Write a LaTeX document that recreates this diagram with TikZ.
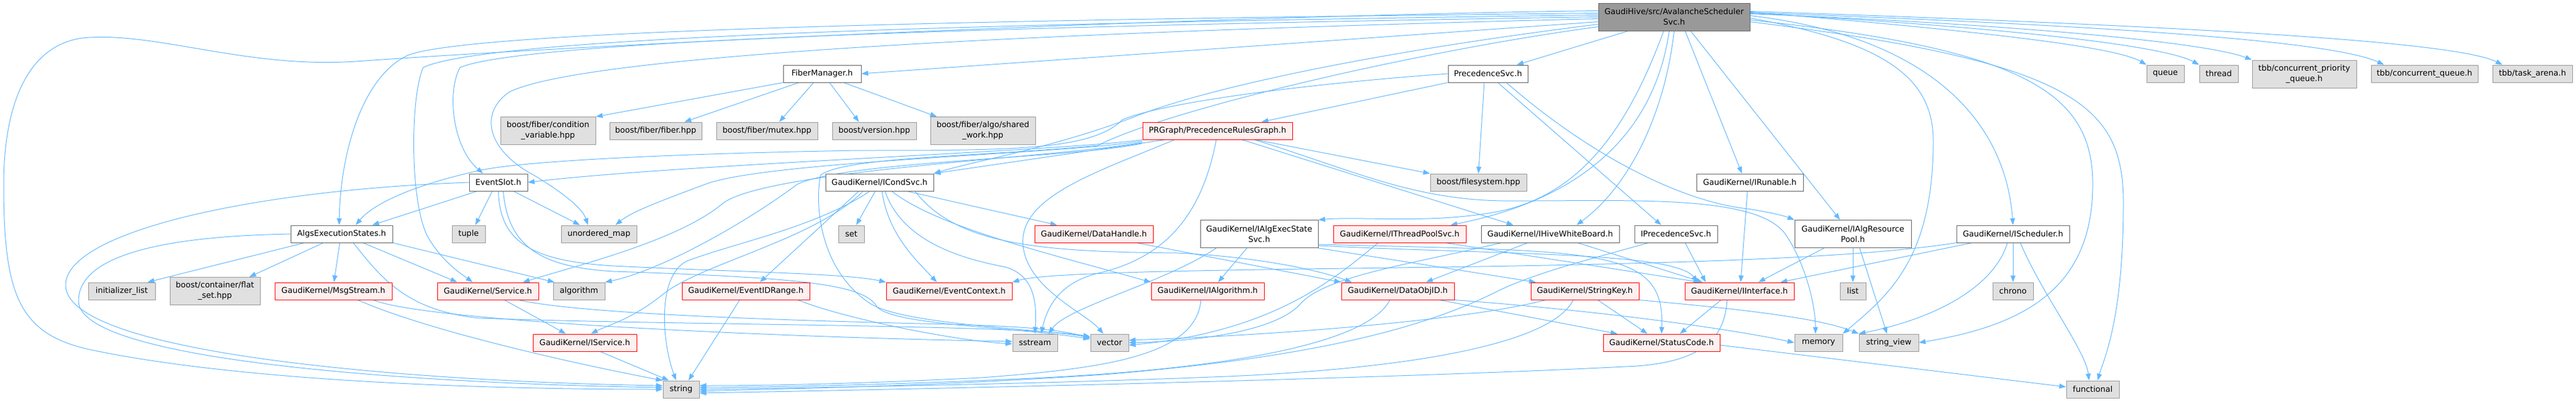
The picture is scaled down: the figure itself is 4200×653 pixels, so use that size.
\documentclass[tikz,border=0pt]{standalone}
\usepackage{fontspec}
\setmainfont{DejaVu Sans}
\usetikzlibrary{arrows.meta}
\definecolor{edgeblue}{HTML}{63B8FF}
\definecolor{docline}{HTML}{666666}
\definecolor{extline}{HTML}{999999}
\definecolor{extfill}{HTML}{E0E0E0}
\definecolor{truncfill}{HTML}{FFF0F0}
\definecolor{rootfill}{HTML}{999999}
\pgfdeclarelayer{bg}
\pgfsetlayers{bg,main}
\begin{document}
\begin{tikzpicture}[x=1pt,y=-1pt,
  box/.style={rectangle,draw,line width=1pt,inner xsep=2pt,inner ysep=0pt,minimum height=28pt,font=\fontsize{13}{17}\selectfont},
  doc/.style={box,draw=docline,fill=white},
  ext/.style={box,draw=extline,fill=extfill},
  trunc/.style={box,draw=red,fill=truncfill},
  rootbox/.style={box,draw=docline,fill=rootfill},
  two/.style={minimum height=45pt,align=center},
  dep/.style={draw=edgeblue,line width=1pt,-{Triangle[length=11pt,width=8pt]}}]
\useasboundingbox (0,0) rectangle (4200,653);

\node[rootbox,two,minimum width=247pt] (root) at (2729.5,27.5) {GaudiHive/src/AvalancheScheduler\\Svc.h};

\node[doc,minimum width=127pt] (fibmgr) at (1340.5,120) {FiberManager.h};
\node[doc,minimum width=130pt] (precsvc) at (2426,120) {PrecedenceSvc.h};
\node[ext,minimum width=61pt] (queue) at (3530.5,120) {queue};
\node[ext,minimum width=63pt] (thread) at (3617.5,120) {thread};
\node[ext,two,minimum width=170pt] (tbbpq) at (3757,120.5) {tbb/concurrent\_priority\\\_queue.h};
\node[ext,minimum width=174pt] (tbbcq) at (3953,120) {tbb/concurrent\_queue.h};
\node[ext,minimum width=130pt] (tbbta) at (4129,120) {tbb/task\_arena.h};

\node[ext,two,minimum width=155pt] (condvar) at (893.5,213) {boost/fiber/condition\\\_variable.hpp};
\node[ext,minimum width=150pt] (fiberhpp) at (1069,213) {boost/fiber/fiber.hpp};
\node[ext,minimum width=165pt] (mutex) at (1250.5,213) {boost/fiber/mutex.hpp};
\node[ext,minimum width=137pt] (version) at (1425.5,213) {boost/version.hpp};
\node[ext,two,minimum width=171pt] (sharedwork) at (1602.5,213) {boost/fiber/algo/shared\\\_work.hpp};
\node[trunc,minimum width=244pt] (prgraph) at (1985,213) {PRGraph/PrecedenceRulesGraph.h};

\node[doc,minimum width=95pt] (evslot) at (812.5,297) {EventSlot.h};
\node[doc,minimum width=176pt] (condsvc) at (1434,297) {GaudiKernel/ICondSvc.h};
\node[ext,minimum width=157pt] (filesys) at (2410.5,297) {boost/filesystem.hpp};
\node[doc,minimum width=174pt] (runable) at (2853,297) {GaudiKernel/IRunable.h};

\node[doc,minimum width=166pt] (algstates) at (557,381) {AlgsExecutionStates.h};
\node[ext,minimum width=54pt] (tuple) at (764,381) {tuple};
\node[ext,minimum width=123pt] (umap) at (976.5,381) {unordered\_map};
\node[ext,minimum width=42pt] (set) at (1388,381) {set};
\node[trunc,minimum width=193pt] (datahandle) at (1783.5,381) {GaudiKernel/DataHandle.h};
\node[doc,two,minimum width=192pt] (execsvc) at (2053,381) {GaudiKernel/IAlgExecState\\Svc.h};
\node[trunc,minimum width=216pt] (poolsvc) at (2282,381) {GaudiKernel/IThreadPoolSvc.h};
\node[doc,minimum width=225pt] (whiteboard) at (2527.5,381) {GaudiKernel/IHiveWhiteBoard.h};
\node[doc,minimum width=135pt] (iprecsvc) at (2732.5,381) {IPrecedenceSvc.h};
\node[doc,two,minimum width=190pt] (respool) at (3021,381) {GaudiKernel/IAlgResource\\Pool.h};
\node[doc,minimum width=184pt] (scheduler) at (3282,381) {GaudiKernel/IScheduler.h};

\node[ext,minimum width=109pt] (initlist) at (198.5,474) {initializer\_list};
\node[ext,two,minimum width=147pt] (flatset) at (350.5,474) {boost/container/flat\\\_set.hpp};
\node[trunc,minimum width=191pt] (msgstream) at (543.5,474) {GaudiKernel/MsgStream.h};
\node[trunc,minimum width=165pt] (service) at (795.5,474) {GaudiKernel/Service.h};
\node[ext,minimum width=84pt] (algorithm) at (944,474) {algorithm};
\node[trunc,minimum width=208pt] (idrange) at (1216,474) {GaudiKernel/EventIDRange.h};
\node[trunc,minimum width=205pt] (evctx) at (1547.5,474) {GaudiKernel/EventContext.h};
\node[trunc,minimum width=184pt] (ialg) at (1969,474) {GaudiKernel/IAlgorithm.h};
\node[trunc,minimum width=184pt] (dataobjid) at (2279,474) {GaudiKernel/DataObjID.h};
\node[trunc,minimum width=176pt] (stringkey) at (2584,474) {GaudiKernel/StringKey.h};
\node[trunc,minimum width=178pt] (iface) at (2836,474) {GaudiKernel/IInterface.h};
\node[ext,minimum width=42pt] (list) at (3021,474) {list};
\node[ext,minimum width=66pt] (chrono) at (3282,474) {chrono};

\node[trunc,minimum width=169pt] (iservice) at (953.5,558) {GaudiKernel/IService.h};
\node[ext,minimum width=73pt] (sstream) at (1687.5,558) {sstream};
\node[ext,minimum width=62pt] (vector) at (1809,558) {vector};
\node[trunc,minimum width=190pt] (statuscode) at (2709,558) {GaudiKernel/StatusCode.h};
\node[ext,minimum width=78pt] (memory) at (2965,558) {memory};
\node[ext,minimum width=97pt] (strview) at (3079.5,558) {string\_view};

\node[ext,minimum width=59pt] (string) at (1110.5,634) {string};
\node[ext,minimum width=86pt] (functional) at (3412,634) {functional};

\begin{pgfonlayer}{bg}
\draw[dep] ([yshift=10pt]root.west) .. controls (2000,25) and (1000,70) .. (580,100) .. controls (400,112) and (250,50) .. (134,62) .. controls (40,75) and (6,180) .. (6,300) .. controls (6,480) and (30,545) .. (150,570) .. controls (400,622) and (800,634) .. (string.west);
\draw[dep] ([yshift=6pt]root.west) .. controls (1800,30) and (780,45) .. (665,90) .. controls (590,125) and (555,250) .. ([xshift=-4pt]algstates.north);
\draw[dep] ([yshift=3pt]root.west) .. controls (1800,35) and (800,55) .. (690,110) .. controls (668,160) and (668,340) .. (700,390) .. controls (725,430) and (755,448) .. ([xshift=-25pt]service.north);
\draw[dep] (root.west) .. controls (1800,40) and (860,62) .. (750,110) .. controls (728,150) and (738,240) .. ([xshift=-25pt]evslot.north);
\draw[dep] ([yshift=-3pt]root.west) .. controls (1800,50) and (960,85) .. (830,150) .. controls (780,185) and (795,245) .. (870,285) .. controls (920,315) and (950,340) .. ([xshift=-18pt]umap.north);
\draw[dep] ([yshift=-8pt]root.west) -- (fibmgr.east);
\draw[dep] ([yshift=-12pt]root.west) .. controls (2200,90) and (1950,150) .. (1850,190) .. controls (1720,240) and (1590,262) .. (condsvc.north east);
\draw[dep] ([yshift=-16pt]root.west) .. controls (2300,85) and (1900,180) .. (1790,237) .. controls (1600,255) and (1380,255) .. (1338,285) .. controls (1328,330) and (1335,440) .. (1420,495) .. controls (1480,530) and (1700,535) .. ([yshift=8pt]vector.west);
\draw[dep] ([xshift=-75pt]root.south) -- ([xshift=47pt]precsvc.north);
\draw[dep] ([xshift=-17pt]root.south) .. controls (2650,220) and (2570,320) .. (2440,345) .. controls (2330,365) and (2220,352) .. (execsvc.north east);
\draw[dep] ([xshift=-8pt]root.south) .. controls (2700,200) and (2600,320) .. ([xshift=83pt]poolsvc.north);
\draw[dep] (root.south) .. controls (2715,180) and (2660,300) .. ([xshift=43pt]whiteboard.north);
\draw[dep] ([xshift=18pt]root.south) -- ([xshift=-13pt]runable.north);
\draw[dep] ([xshift=27pt]root.south) -- ([xshift=-21pt]respool.north);
\draw[dep] ([yshift=8pt]root.east) .. controls (3100,40) and (3440,70) .. (queue.north west);
\draw[dep] ([yshift=6pt]root.east) .. controls (3200,40) and (3520,70) .. (thread.north west);
\draw[dep] ([yshift=5pt]root.east) .. controls (3300,40) and (3600,70) .. (tbbpq.north west);
\draw[dep] ([yshift=7pt]root.east) .. controls (3400,40) and (3800,65) .. ([xshift=-66pt]tbbcq.north);
\draw[dep] ([yshift=9pt]root.east) .. controls (3500,40) and (4000,65) .. ([xshift=-49pt]tbbta.north);
\draw[dep] ([yshift=2pt]root.east) .. controls (3150,60) and (3270,200) .. (scheduler.north);
\draw[dep] ([yshift=-2pt]root.east) .. controls (3080,70) and (3152,130) .. (3152,230) .. controls (3152,420) and (3080,480) .. (memory.north east);
\draw[dep] ([yshift=-5pt]root.east) .. controls (3300,80) and (3412,150) .. (3412,300) .. controls (3412,470) and (3300,530) .. (strview.east);
\draw[dep] ([yshift=-8pt]root.east) .. controls (3380,100) and (3462,170) .. (3462,330) .. controls (3462,520) and (3430,585) .. ([xshift=8pt]functional.north);

\draw[dep] (fibmgr.south west) -- (condvar.north east);
\draw[dep] ([xshift=-38pt]fibmgr.south) -- ([xshift=47pt]fiberhpp.north);
\draw[dep] ([xshift=-14pt]fibmgr.south) -- ([xshift=20pt]mutex.north);
\draw[dep] ([xshift=12pt]fibmgr.south) -- ([xshift=-25pt]version.north);
\draw[dep] ([xshift=35pt]fibmgr.south) -- ([xshift=-75pt]sharedwork.north);

\draw[dep] (precsvc.south west) -- ([xshift=72pt]prgraph.north);
\draw[dep] (precsvc.west) .. controls (2150,135) and (1900,165) .. (1830,195) .. controls (1780,245) and (1650,245) .. (1400,245) .. controls (1100,250) and (850,262) .. (780,278) .. controls (680,300) and (610,330) .. ([xshift=23pt]algstates.north);
\draw[dep] ([xshift=-6pt]precsvc.south) -- (filesys.north);
\draw[dep] ([xshift=16pt]precsvc.south) -- ([xshift=-24pt]iprecsvc.north);
\draw[dep] ([xshift=30pt]precsvc.south) .. controls (2600,260) and (2750,330) .. (2850,340) .. controls (2880,345) and (2905,350) .. (respool.north west);

\draw[dep] ([xshift=-85pt]prgraph.south) -- (condsvc.north east);
\draw[dep] (prgraph.south west) .. controls (1750,245) and (1100,268) .. (evslot.east);
\draw[dep] ([yshift=-2pt]prgraph.south west) .. controls (1750,250) and (1250,262) .. (1150,300) .. controls (1070,330) and (1030,345) .. ([xshift=27pt]umap.north);
\draw[dep] ([yshift=-4pt]prgraph.south west) .. controls (1750,255) and (1260,275) .. (1180,330) .. controls (1110,390) and (950,430) .. ([xshift=57pt]service.north);
\draw[dep] ([yshift=-6pt]prgraph.south west) .. controls (1750,258) and (1380,262) .. (1300,300) .. controls (1220,360) and (1080,440) .. (algorithm.north east);
\draw[dep] ([xshift=-2pt]prgraph.south) .. controls (1960,350) and (1900,420) .. (1790,445) .. controls (1720,462) and (1705,510) .. ([xshift=10pt]sstream.north);
\draw[dep] ([xshift=-70pt]prgraph.south) .. controls (1790,280) and (1660,320) .. (1668,400) .. controls (1675,470) and (1770,510) .. ([xshift=-10pt]vector.north);
\draw[dep] ([xshift=40pt]prgraph.south) -- ([xshift=-60pt]whiteboard.north);
\draw[dep] ([xshift=62pt]prgraph.south) -- (filesys.north west);
\draw[dep] ([xshift=60pt]prgraph.south) .. controls (2200,275) and (2300,325) .. (2450,327) .. controls (2650,328) and (2860,315) .. (2910,380) .. controls (2945,430) and (2960,500) .. ([xshift=-5pt]memory.north);

\draw[dep] ([xshift=-35pt]evslot.south) -- ([xshift=50pt]algstates.north);
\draw[dep] ([xshift=-10pt]evslot.south) -- ([xshift=11pt]tuple.north);
\draw[dep] ([xshift=25pt]evslot.south) -- ([xshift=-31pt]umap.north);
\draw[dep] (evslot.west) .. controls (400,310) and (105,380) .. (107,465) .. controls (110,580) and (700,622) .. ([yshift=6pt]string.west);
\draw[dep] (evslot.south) .. controls (815,390) and (860,425) .. (1000,433) .. controls (1200,443) and (1380,445) .. (evctx.north west);
\draw[dep] ([xshift=8pt]evslot.south) .. controls (828,400) and (880,435) .. (1000,442) .. controls (1300,452) and (1410,462) .. (1430,500) .. controls (1460,530) and (1650,532) .. ([yshift=6pt]vector.west);

\draw[dep] (algstates.west) .. controls (250,385) and (128,420) .. (128,490) .. controls (128,590) and (700,625) .. ([yshift=3pt]string.west);
\draw[dep] ([xshift=-61pt]algstates.south) -- ([xshift=42pt]initlist.north);
\draw[dep] ([xshift=-30pt]algstates.south) -- ([xshift=56pt]flatset.north);
\draw[dep] ([xshift=-3pt]algstates.south) -- ([xshift=1pt]msgstream.north);
\draw[dep] ([xshift=19pt]algstates.south) .. controls (620,450) and (660,505) .. (780,518) .. controls (1100,530) and (1650,528) .. ([yshift=10pt]vector.west);
\draw[dep] ([xshift=35pt]algstates.south) -- ([xshift=-50pt]service.north);
\draw[dep] (algstates.south east) -- ([xshift=-40pt]algorithm.north);

\draw[dep] ([xshift=40pt]msgstream.south) .. controls (700,540) and (950,595) .. (string.north west);
\draw[dep] ([xshift=65pt]msgstream.south) .. controls (700,525) and (1300,550) .. ([yshift=2pt]sstream.west);
\draw[dep] ([xshift=27pt]service.south) -- ([xshift=-31pt]iservice.north);
\draw[dep] ([xshift=50pt]service.south) .. controls (950,512) and (1300,522) .. (1500,527) .. controls (1650,530) and (1720,535) .. ([yshift=8pt]vector.west);
\draw[dep] ([xshift=25pt]iservice.south) -- ([xshift=-20pt]string.north);
\draw[dep] ([xshift=-10pt]idrange.south) -- ([xshift=12pt]string.north);
\draw[dep] ([xshift=85pt]idrange.south) .. controls (1380,520) and (1560,555) .. ([yshift=-2pt]sstream.west);

\draw[dep] ([xshift=-7pt]condsvc.south) -- ([xshift=8pt]set.north);
\draw[dep] ([xshift=-34pt]condsvc.south) -- ([xshift=23pt]idrange.north);
\draw[dep] ([xshift=-27pt]condsvc.south) .. controls (1330,390) and (1140,430) .. (1080,480) .. controls (1030,520) and (990,530) .. ([xshift=10pt]iservice.north);
\draw[dep] ([xshift=-16pt]condsvc.south) .. controls (1330,370) and (1200,395) .. (1120,425) .. controls (1070,450) and (1080,560) .. ([xshift=-8pt]string.north);
\draw[dep] ([xshift=4pt]condsvc.south) .. controls (1448,380) and (1490,420) .. ([xshift=-20pt]evctx.north);
\draw[dep] ([xshift=9pt]condsvc.south) .. controls (1470,390) and (1560,420) .. (1640,435) .. controls (1690,450) and (1690,500) .. (sstream.north);
\draw[dep] ([xshift=20pt]condsvc.south) .. controls (1530,370) and (1700,410) .. (ialg.north west);
\draw[dep] ([xshift=45pt]condsvc.south) -- ([xshift=-60pt]datahandle.north);
\draw[dep] ([xshift=58pt]condsvc.south) .. controls (1560,400) and (1700,410) .. (1920,412) .. controls (2050,418) and (2150,440) .. ([xshift=-75pt]dataobjid.north);
\draw[dep] ([xshift=70pt]datahandle.south) -- (dataobjid.north west);

\draw[dep] ([xshift=-20pt]execsvc.south) -- ([xshift=17pt]ialg.north);
\draw[dep] ([xshift=-70pt]execsvc.south) .. controls (1900,460) and (1740,500) .. ([xshift=22pt]sstream.north);
\draw[dep] (execsvc.south east) -- ([xshift=-80pt]stringkey.north);
\draw[dep] ([yshift=4pt]execsvc.south east) .. controls (2450,415) and (2730,410) .. ([xshift=-68pt]iface.north);
\draw[dep] ([yshift=6pt]execsvc.south east) .. controls (2600,410) and (2715,400) .. (statuscode.north);
\draw[dep] ([xshift=75pt]poolsvc.south) -- ([xshift=-64pt]iface.north);
\draw[dep] ([xshift=-35pt]poolsvc.south) .. controls (2180,450) and (2080,540) .. ([yshift=-4pt]vector.east);
\draw[dep] ([xshift=-37pt]whiteboard.south) -- ([xshift=46pt]dataobjid.north);
\draw[dep] ([xshift=45pt]whiteboard.south) -- ([xshift=-60pt]iface.north);
\draw[dep] ([xshift=-80pt]whiteboard.south) .. controls (2300,430) and (2160,450) .. (2120,495) .. controls (2080,540) and (1950,556) .. (vector.east);
\draw[dep] ([xshift=15pt]iprecsvc.south) -- ([xshift=-55pt]iface.north);
\draw[dep] ([xshift=-45pt]iprecsvc.south) .. controls (2600,420) and (2500,445) .. (2440,475) .. controls (2300,545) and (2100,585) .. (1800,610) .. controls (1500,630) and (1300,632) .. ([yshift=-3pt]string.east);
\draw[dep] ([xshift=-4pt]runable.south) -- ([xshift=2pt]iface.north);
\draw[dep] ([xshift=-47pt]respool.south) -- ([xshift=31pt]iface.north);
\draw[dep] (respool.south) -- (list.north);
\draw[dep] ([xshift=11pt]respool.south) -- ([xshift=-3pt]strview.north);
\draw[dep] (scheduler.south west) .. controls (3000,425) and (2600,432) .. (2200,437) .. controls (1900,441) and (1700,445) .. (evctx.north east);
\draw[dep] ([xshift=-67pt]scheduler.south) -- ([xshift=67pt]iface.north);
\draw[dep] ([xshift=-9pt]scheduler.south) .. controls (3250,470) and (3150,520) .. (strview.north west);
\draw[dep] (scheduler.south) -- (chrono.north);
\draw[dep] ([xshift=12pt]scheduler.south) .. controls (3330,480) and (3400,570) .. ([xshift=-6pt]functional.north);

\draw[dep] ([xshift=-11pt]ialg.south) .. controls (1950,580) and (1800,600) .. (1600,615) .. controls (1400,625) and (1250,628) .. ([yshift=6pt]string.east);
\draw[dep] ([xshift=68pt]dataobjid.south) -- ([xshift=-72pt]statuscode.north);
\draw[dep] ([xshift=-13pt]dataobjid.south) .. controls (2230,560) and (2000,600) .. (1700,615) .. controls (1500,625) and (1300,630) .. ([yshift=3pt]string.east);
\draw[dep] (dataobjid.south east) .. controls (2600,505) and (2820,535) .. (memory.west);
\draw[dep] ([xshift=21pt]stringkey.south) -- ([xshift=-23pt]statuscode.north);
\draw[dep] ([xshift=-19pt]stringkey.south) .. controls (2530,560) and (2300,600) .. (2000,613) .. controls (1700,625) and (1400,630) .. (string.east);
\draw[dep] ([xshift=-64pt]stringkey.south) .. controls (2400,520) and (2100,545) .. ([yshift=4pt]vector.east);
\draw[dep] (stringkey.south east) .. controls (2800,500) and (2960,515) .. (strview.north west);
\draw[dep] ([xshift=-30pt]iface.south) -- ([xshift=30pt]statuscode.north);
\draw[dep] ([xshift=-20pt]iface.south) .. controls (2812,540) and (2790,592) .. (2650,597) .. controls (2300,615) and (1600,632) .. ([yshift=-6pt]string.east);
\draw[dep] ([yshift=-4pt]statuscode.east) -- ([yshift=4pt]functional.west);
\end{pgfonlayer}
\end{tikzpicture}
\end{document}
